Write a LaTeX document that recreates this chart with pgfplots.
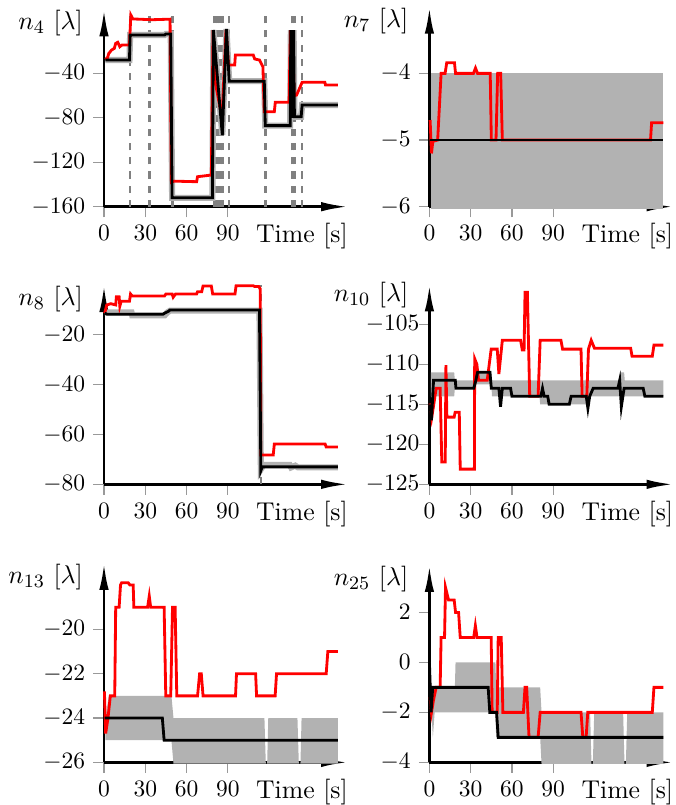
\documentclass[border=0pt]{standalone}
\usepackage{pgfplots}
\pgfplotsset{compat=1.18}
\usetikzlibrary{arrows.meta}
\begin{document}
\begin{tikzpicture}
\path[use as bounding box] (0,0) rectangle (287.2pt,342.5pt);
\pgfplotsset{
 every non boxed x axis/.style={enlarge x limits=false},
 every non boxed y axis/.style={enlarge y limits=false},
 myax/.style={
  scale only axis, width=103.9pt, xmin=0, xmax=177.5,
  anchor=south west, axis lines=left, clip=false,
  enlarge x limits=false, enlarge y limits=false,
  axis line style={line width=1.2pt, -{Latex[length=11.5pt,width=4pt]}},
  tick align=outside, major tick length=4.5pt,
  tick style={gray!80, line width=0.5pt},
  xtick={0,30,60,90},
  tick label style={font=\fontsize{10}{12}\selectfont},
  xlabel={Time [s]},
  every axis x label/.style={at={(axis description cs:1,0)}, anchor=base east, inner sep=0pt, yshift=-15.4pt, font=\fontsize{10.95}{13}\selectfont},
  every axis y label/.style={at={(axis description cs:0,1)}, anchor=north east, inner sep=0pt, xshift=-8.8pt, yshift=-0.3pt, font=\fontsize{10.95}{13}\selectfont},
 },
 band/.style={fill=gray!60, draw=none, forget plot},
 dash/.style={gray, dashed, line width=1.1pt},
 shadow/.style={gray!60, line width=2.6pt},
 est/.style={red, line width=1.2pt},
 tru/.style={black, line width=1.2pt},
}
% ---------------- TL n4
\begin{axis}[myax, at={(44.25pt,254.55pt)}, height=84.0pt, ymin=-160, ymax=17.7,
  ytick={-160,-120,-80,-40}, ylabel={$n_{4}$ $[\lambda]$}]
\foreach \t in {18.9,33,49.8,80.3,82.2,84.1,86,91,117.3,136.5,138.4,144}{
 \edef\tmp{\noexpand\addplot[dash] coordinates {(\t,-160) (\t,17.7)};}\tmp
}
\addplot[shadow] coordinates {(1,-28)(18.5,-28)(19,-5.5)(44,-5.5)(45,-4.5)(48.5,-4.5)(49.5,-152)(78.8,-152)(79.5,-1)(86,-95.5)(89,0)(91,-47)(116.5,-47)(117.2,-87)(135.3,-87)(135.8,-1)(136.3,-80)(136.8,-1)(137.3,-80)(137.8,-1)(138.4,-79)(143.3,-79)(144,-68.5)(170,-68.5)};
\addplot[est] coordinates {(1,-27.5)(2.5,-26)(3.5,-22)(5.5,-19)(7.5,-17.5)(8.5,-13)(10,-12)(11.5,-16)(13,-14.5)(18.5,-14.5)(19.5,12.5)(21,9)(35,8.3)(48,8.8)(49,-138)(51,-137)(67.3,-137.5)(68,-133)(78,-131.5)(79.3,-1)(80.7,-47)(85.8,-80)(88.7,-1)(90.5,-32.5)(95,-32.5)(95.5,-23.5)(108.5,-23.5)(109.5,-27)(113,-28)(115.5,-34)(116.5,-74.5)(123.8,-74.5)(124.5,-66)(134.5,-66)(135.5,-1)(136.3,-70)(137,-1)(138.2,-60)(140,-59.5)(144,-48)(160.5,-48)(161,-50.5)(170,-50.5)};
\addplot[tru] coordinates {(1,-28)(18.5,-28)(19,-5.5)(44,-5.5)(45,-4.5)(48.5,-4.5)(49.5,-152)(78.8,-152)(79.5,-1)(86,-95.5)(89,0)(91,-47)(116.5,-47)(117.2,-87)(135.3,-87)(135.8,-1)(136.3,-80)(136.8,-1)(137.3,-80)(137.8,-1)(138.4,-79)(143.3,-79)(144,-68.5)(170,-68.5)};
\end{axis}
% ---------------- TR n7
\begin{axis}[myax, at={(182.7pt,254.55pt)}, height=85.1pt, ymin=-6, ymax=-3,
  ytick={-6,-5,-4}, ylabel={$n_{7}$ $[\lambda]$}]
\addplot[band] coordinates {(1,-4)(170,-4)(170,-6.03)(1,-6.03)} -- cycle;
\addplot[est] coordinates {(0.5,-4.7)(1.5,-5.2)(2.5,-5.02)(6,-5)(8.5,-4)(11.4,-4)(12.6,-3.84)(18.2,-3.84)(19,-4)(32,-4)(33.5,-3.92)(35,-4)(44.2,-4)(45,-5)(48.4,-5)(49.6,-4)(51.8,-4)(53,-5)(160.7,-5)(161.5,-4.74)(170,-4.74)};
\addplot[tru] coordinates {(0.5,-5)(170,-5)};
\end{axis}
% ---------------- ML n8
\begin{axis}[myax, at={(44.25pt,136.43pt)}, height=84.8pt, ymin=-80, ymax=0,
  ytick={-80,-60,-40,-20}, ylabel={$n_{8}$ $[\lambda]$}]
\addplot[dash] coordinates {(114.2,-80)(114.2,0)};
\addplot[shadow] coordinates {(0.5,-11)(20,-11)(20.5,-12.2)(44,-12.2)(46,-11)(48,-10.3)(113,-10.3)(114,-74)(116,-72.2)(135,-72.2)(136,-73.2)(139,-72.5)(141,-73.2)(170,-73.2)};
\addplot[est] coordinates {(0.5,-11.3)(2,-8)(5,-7.5)(8.5,-8)(9,-4.7)(11,-4.7)(11.5,-8.5)(12.5,-6.5)(18.5,-6.5)(19.3,-3.6)(20.5,-4.4)(44,-4.4)(45,-3.6)(49.5,-3.6)(50.3,-4.9)(52,-3.6)(67.3,-3.6)(68,-2.7)(71,-2.7)(72,-0.4)(78,-0.4)(79,-3.6)(95.2,-3.6)(96,-0.3)(108.5,-0.3)(109.5,-0.6)(112.5,-0.6)(113.5,-1.5)(114,-68.2)(123,-68.2)(123.8,-63.8)(160.7,-63.8)(161.5,-65)(170,-65)};
\addplot[tru] coordinates {(0.5,-11.3)(2,-11.7)(43,-11.7)(44,-11.3)(47,-10.5)(48,-10)(113,-10)(114,-74.5)(115,-73)(170,-73)};
\end{axis}
% ---------------- MR n10
\begin{axis}[myax, at={(182.7pt,136.43pt)}, height=85.1pt, ymin=-125, ymax=-100,
  ytick={-125,-120,-115,-110,-105}, ylabel={$n_{10}$ $[\lambda]$},
  every axis y label/.append style={yshift=1.2pt},
  yticklabel style={xshift=3.8pt}]
\addplot[band] coordinates {(1,-111)(18,-111)(18.5,-112)(32,-112)(32.5,-111)(45,-111)(45.5,-112)(138,-112)(138.5,-111)(141.5,-111)(142,-112)(170,-112)(170,-114)(142,-114)(116,-114)(115.5,-115)(80.5,-115)(80,-114)(45.5,-114)(45,-112.5)(32.5,-112.5)(32,-113)(18.5,-113)(18,-114)(1,-114)} -- cycle;
\addplot[est] coordinates {(0.5,-114.9)(1.7,-116.6)(2.9,-115.3)(4.9,-113)(7.8,-113)(9,-122.2)(11.5,-122.2)(12,-110.1)(12.7,-116.6)(18,-116.6)(18.7,-116)(21.7,-116)(22.4,-123.1)(32.7,-123.1)(32.9,-109.3)(34.5,-110)(35.7,-112)(42,-112)(44.9,-108.1)(49.3,-108.1)(50.5,-111.2)(53,-107)(66.3,-107)(67.5,-108.2)(68.8,-108.2)(69.5,-101)(71.2,-101)(72.9,-114)(79,-114)(80.5,-107)(95.6,-107)(96.8,-108.1)(110.2,-108.1)(111,-114)(114.4,-114)(115.6,-108.1)(117.6,-107)(120,-108)(146.3,-108)(147.3,-109)(162,-109)(163.2,-107.6)(170,-107.6)};
\addplot[tru] coordinates {(0.5,-115)(1.5,-117)(3,-112)(18.8,-112)(19.3,-113)(32.2,-113)(33.5,-112.2)(35,-111)(44,-111)(45,-113)(50.5,-113)(51.7,-115.3)(53,-113)(59,-113)(60,-114)(81,-114)(82.2,-113)(83.4,-114)(86,-114)(87,-115)(101.7,-115)(103,-114)(114,-114)(115.2,-115.5)(116.5,-114)(119,-113)(137,-113)(138.3,-112)(139.5,-115.3)(141.5,-113)(155.4,-113)(156.6,-114)(170,-114)};
\end{axis}
% ---------------- BL n13
\begin{axis}[myax, at={(44.25pt,18.14pt)}, height=84.9pt, ymin=-26, ymax=-17,
  ytick={-26,-24,-22,-20}, ylabel={$n_{13}$ $[\lambda]$}]
\addplot[band] coordinates {(1,-24)(3.5,-23)(49,-23)(50.5,-24)(116.6,-24)(117.6,-26.06)(118.6,-26.06)(119.4,-24)(140.6,-24)(141.6,-26.06)(142.8,-26.06)(143.6,-24)(170,-24)(170,-26.06)(50.5,-26.06)(49,-25)(1,-25)} -- cycle;
\addplot[est] coordinates {(0.3,-22.8)(1.2,-24.7)(2.9,-24)(4.6,-23)(7.8,-23)(8.5,-19)(11,-19)(12,-18)(12.8,-17.9)(17.6,-17.9)(18.8,-18)(21.2,-18)(21.7,-19)(31.7,-19)(32.9,-18.5)(33.9,-19)(43.7,-19)(44.9,-23)(48.5,-23)(49.8,-19)(51.7,-19)(52.9,-23)(68,-23)(69.5,-22)(70.7,-22)(72,-23)(95.6,-23)(96.3,-22)(110.2,-22)(110.9,-23)(124.4,-23)(125.4,-22)(161.5,-22)(162.7,-21)(170,-21)};
\addplot[tru] coordinates {(0.5,-24)(42.4,-24)(43.7,-25)(170,-25)};
\end{axis}
% ---------------- BR n25
\begin{axis}[myax, at={(182.7pt,18.14pt)}, height=84.0pt, ymin=-4, ymax=3.9,
  ytick={-4,-2,0,2}, ylabel={$n_{25}$ $[\lambda]$}]
\addplot[band] coordinates {(0.5,0)(1.5,-1)(18.5,-1)(19,0)(48,0)(48.5,-1)(80.5,-1)(81.5,-2)(116.8,-2)(117.8,-4.06)(118.8,-4.06)(119.8,-2)(140.8,-2)(141.8,-4.06)(142.8,-4.06)(143.8,-2)(170,-2)(170,-4.06)(81.5,-4.06)(80.5,-3)(48.5,-3)(48,-2)(3.8,-2)(2.5,-3)(1.5,-2)(0.5,-0.5)} -- cycle;
\addplot[est] coordinates {(0.5,-1.4)(1.5,-2)(3,-1.5)(4.9,-1)(7.8,-1)(8.5,1)(11,1)(11.7,3)(13.9,2.5)(18,2.5)(19,2)(21.2,2)(22.4,1)(32.2,1)(33.4,1.47)(34.6,1)(44.9,1)(45.6,-2)(49.3,-2)(50,1)(52.2,1)(53.4,-2)(68.3,-2)(69.5,-1)(70.7,-1)(72.4,-3)(79,-3)(80.5,-2)(110.2,-2)(111.5,-3)(113.9,-3)(115.1,-2)(162,-2)(163.2,-1)(170,-1)};
\addplot[tru] coordinates {(0,0)(1.2,-2)(2.4,-1)(42.7,-1)(43.9,-2)(48.8,-2)(50,-3)(170,-3)};
\end{axis}
\end{tikzpicture}
\end{document}
